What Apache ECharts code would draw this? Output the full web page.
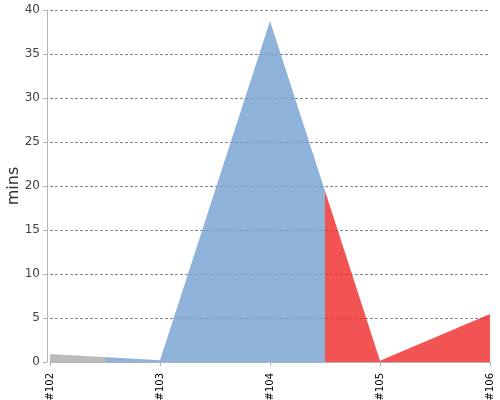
<!DOCTYPE html>
<html>
<head>
<meta charset="utf-8">
<script src="https://cdn.jsdelivr.net/npm/echarts@6/dist/echarts.min.js"></script>
<style>html,body{margin:0;padding:0;background:#fff}#c{width:500px;height:400px}</style>
</head>
<body>
<div id="c"></div>
<script>
var categories = ['#102', '#103', '#104', '#105', '#106'];
var durations = [0.9, 0.2, 38.75, 0.15, 5.45];
var yTicks = [0, 5, 10, 15, 20, 25, 30, 35, 40];
var yName = 'mins';
// status colour changes between builds (category index positions)
var statusBreaks = [0.5, 2.5];
var statusColors = ['#aaaaaa', '#729fcf', '#ef2929'];

var n = categories.length - 1;
var stops = [];
stops.push({offset: 0, color: statusColors[0]});
for (var i = 0; i < statusBreaks.length; i++) {
  var o = statusBreaks[i] / n;
  stops.push({offset: o, color: statusColors[i]});
  stops.push({offset: o, color: statusColors[i + 1]});
}
stops.push({offset: 1, color: statusColors[statusColors.length - 1]});

var chart = echarts.init(document.getElementById('c'), null, {renderer: 'canvas'});
chart.setOption({
  animation: false,
  grid: {left: 50, right: 10, top: 10, bottom: 38, containLabel: false, outerBoundsMode: 'none'},
  xAxis: {
    type: 'category',
    data: categories,
    boundaryGap: false,
    offset: 4,
    axisLine: {lineStyle: {color: '#b4b4b4'}},
    axisTick: {length: 4, alignWithLabel: true, lineStyle: {color: '#b4b4b4'}},
    axisLabel: {rotate: 90, fontSize: 10, color: '#000', fontFamily: 'DejaVu Sans', margin: 7, interval: 0},
    splitLine: {show: false}
  },
  yAxis: {
    type: 'value',
    min: yTicks[0],
    max: yTicks[yTicks.length - 1],
    interval: 5,
    offset: 3,
    name: yName,
    nameLocation: 'middle',
    nameRotate: 90,
    nameGap: 25,
    nameMoveOverlap: false,
    nameTextStyle: {fontSize: 16, color: '#333', fontFamily: 'DejaVu Sans'},
    axisLine: {show: true, lineStyle: {color: '#b4b4b4'}},
    axisTick: {show: true, length: 4, lineStyle: {color: '#b4b4b4'}},
    axisLabel: {fontSize: 12, color: '#444', fontFamily: 'DejaVu Sans', margin: 7},
    splitLine: {show: true, lineStyle: {color: '#888', type: [3, 2], width: 1}}
  },
  series: [{
    type: 'line',
    data: durations,
    symbol: 'none',
    lineStyle: {width: 0},
    areaStyle: {
      opacity: 0.8,
      color: {type: 'linear', x: 0, y: 0, x2: 1, y2: 0, colorStops: stops}
    }
  }]
});
</script>
</body>
</html>
